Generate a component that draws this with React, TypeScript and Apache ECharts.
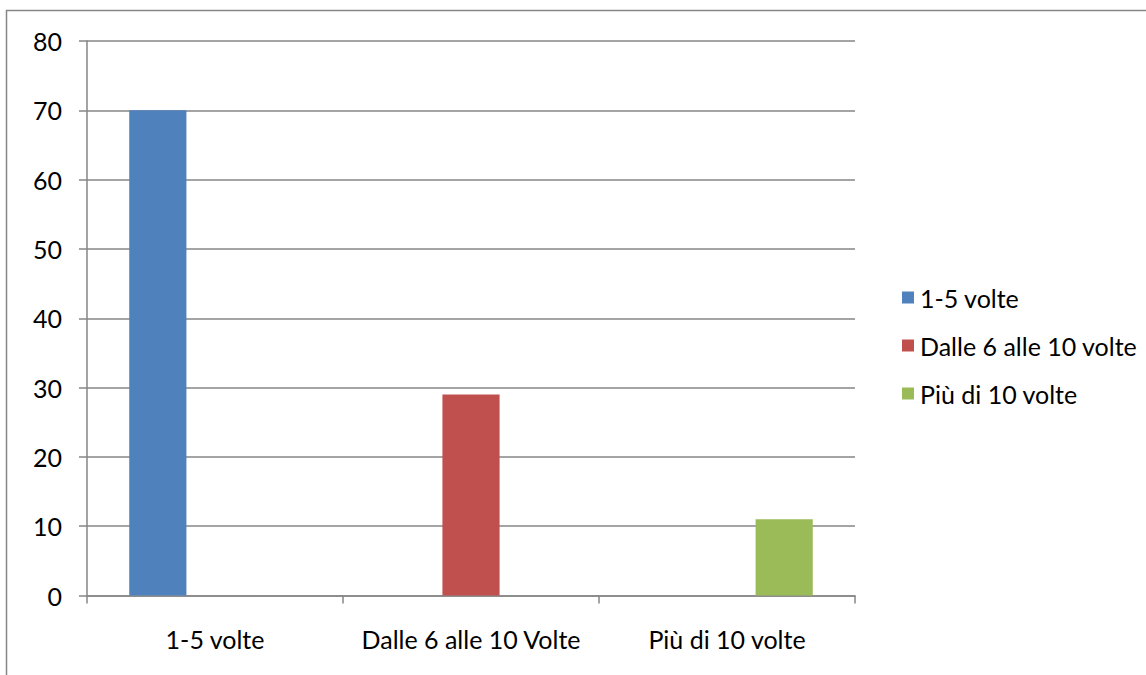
import React, { useEffect, useRef } from "react";
import * as echarts from "echarts";

const categories = ["1-5 volte", "Dalle 6 alle 10 Volte", "Più di 10 volte"];
const seriesNames = ["1-5 volte", "Dalle 6 alle 10 volte", "Più di 10 volte"];
const seriesValues: (number | string)[][] = [
  [70, "-", "-"],
  ["-", 29, "-"],
  ["-", "-", 11],
];
const colors = ["#4F81BD", "#C0504D", "#9BBB59"];
const yTicks = { min: 0, max: 80, interval: 10 };

const FONT = "Lato, 'Open Sans', sans-serif";
const FS = 25;

export default function App() {
  const ref = useRef<HTMLDivElement>(null);
  useEffect(() => {
    if (!ref.current) return;
    const chart = echarts.init(ref.current, null, { renderer: "svg" });
    chart.setOption({
      animation: false,
      backgroundColor: "#ffffff",
      textStyle: { fontFamily: FONT },
      graphic: [
        {
          type: "rect",
          shape: { x: 6.5, y: 10.5, width: 1300, height: 800 },
          style: { fill: "none", stroke: "#868686", lineWidth: 1.5 },
          silent: true,
        },
      ],
      grid: { left: 87, right: 291, top: 41, bottom: 79.5, containLabel: false },
      legend: {
        orient: "vertical",
        left: 897,
        top: 280,
        itemWidth: 12,
        itemHeight: 12,
        itemGap: 23,
        icon: "rect",
        textStyle: { fontFamily: FONT, fontSize: FS, color: "#000000", padding: [0, 0, 0, 1] },
        data: seriesNames,
      },
      xAxis: {
        type: "category",
        data: categories,
        axisLine: { show: true, lineStyle: { color: "#868686", width: 1.5 } },
        axisTick: { show: true, length: 8, lineStyle: { color: "#868686", width: 1.5 } },
        axisLabel: {
          color: "#000000",
          fontSize: FS,
          fontFamily: FONT,
          margin: 31,
          interval: 0,
          hideOverlap: false,
        },
        splitLine: { show: false },
      },
      yAxis: {
        type: "value",
        min: yTicks.min,
        max: yTicks.max,
        interval: yTicks.interval,
        axisLine: { show: true, lineStyle: { color: "#868686", width: 1.5 } },
        axisTick: { show: true, length: 8, lineStyle: { color: "#868686", width: 1.5 } },
        axisLabel: { color: "#000000", fontSize: FS, fontFamily: FONT, margin: 25 },
        splitLine: { show: true, lineStyle: { color: "#868686", width: 1.5 } },
      },
      series: seriesNames.map((name, i) => ({
        name,
        type: "bar",
        data: seriesValues[i],
        barGap: "0%",
        barCategoryGap: "33%",
        itemStyle: { color: colors[i] },
      })),
    });
    return () => chart.dispose();
  }, []);
  return (
    <div
      ref={ref}
      style={{ position: "fixed", left: 0, top: 0, width: 1146, height: 675 }}
    />
  );
}
